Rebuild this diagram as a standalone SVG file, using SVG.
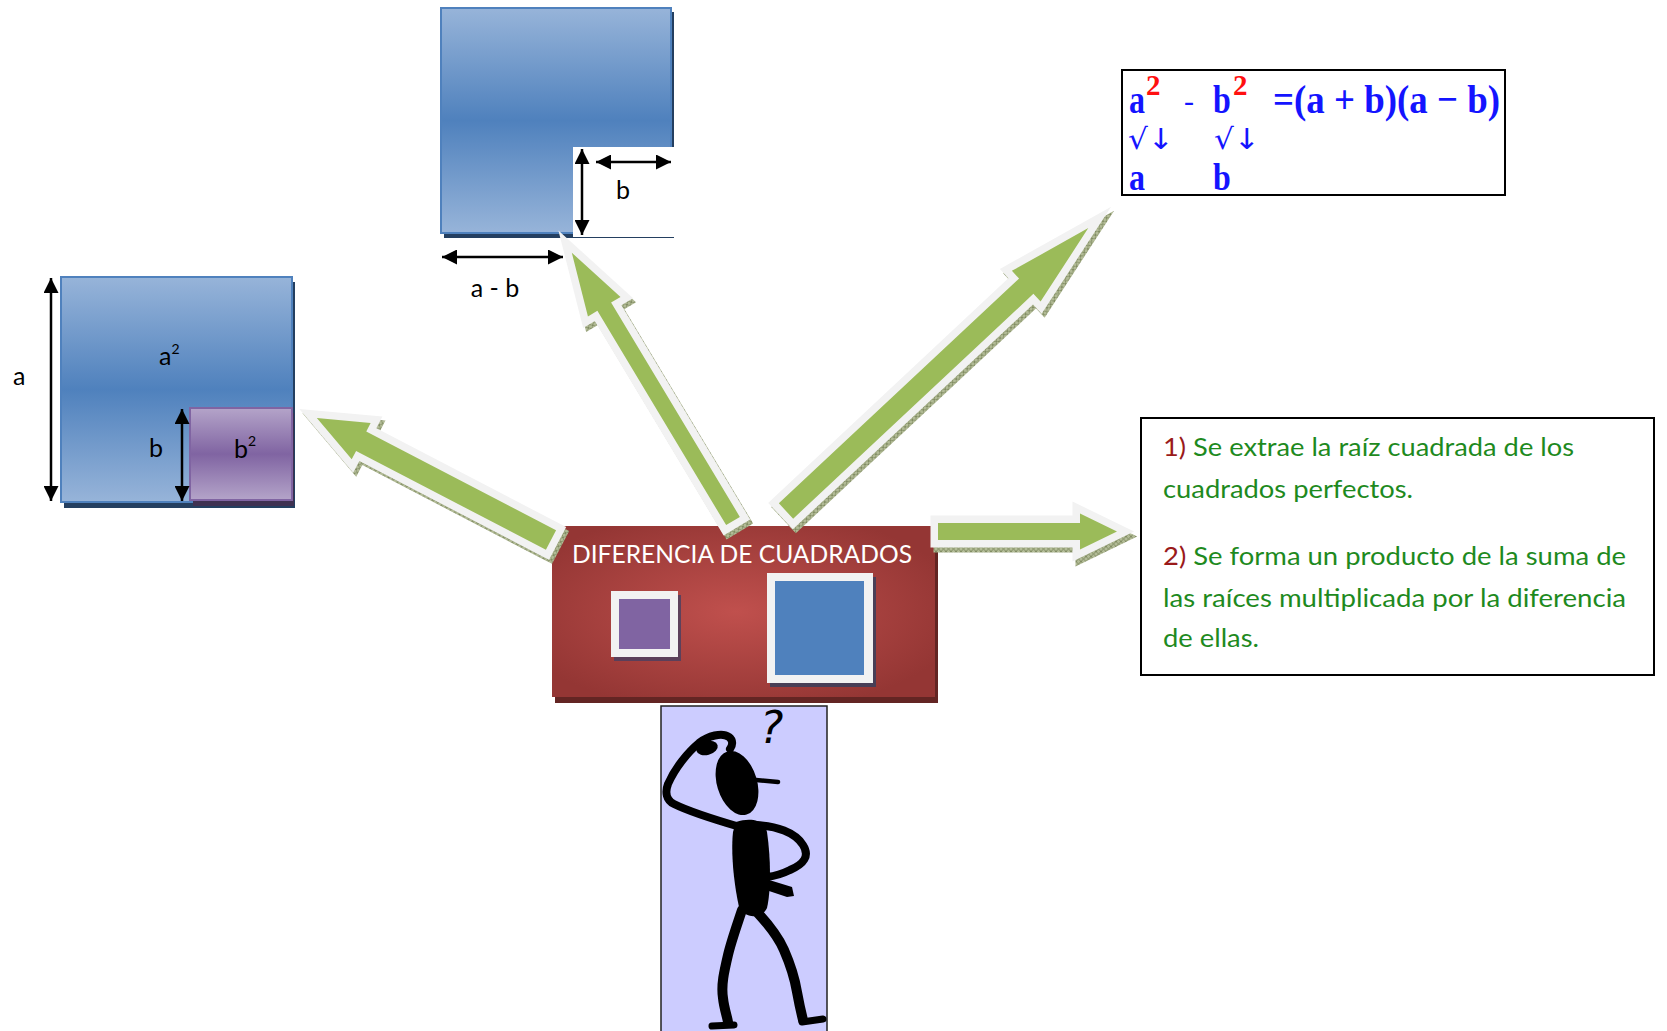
<svg xmlns="http://www.w3.org/2000/svg" xmlns:xlink="http://www.w3.org/1999/xlink" width="1667" height="1031" viewBox="0 0 1667 1031">
  <style>
    .lbl { font-family: Lato, "Open Sans", "Liberation Sans", sans-serif; font-size: 25px; fill: #000; }
    .dim { stroke: #000; stroke-width: 2.5; fill: none; marker-start: url(#tipStart); marker-end: url(#tipEnd); }
    .sq-blue { fill: url(#gBlue); stroke: #4f81bd; stroke-width: 2; }
    .sq-purple { fill: url(#gPurple); stroke: #8064a2; stroke-width: 2; }
    .shadow-blue { fill: #243f60; }
    .shadow-purple { fill: #3f3151; }
    .arrow-shadow { fill: url(#hatch); stroke: url(#hatch); stroke-width: 15; stroke-linejoin: miter; stroke-miterlimit: 10; }
    .arrow-rim { fill: #f2f2f2; stroke: #f2f2f2; stroke-width: 15; stroke-linejoin: miter; stroke-miterlimit: 10; }
    .arrow-body { fill: #9bbb59; }
    .frame { fill: #f2f2f2; }
    .eq { font-family: "Liberation Serif", "Times New Roman", serif; font-weight: bold; fill: #1414ff; }
    .eq-root { font-family: "DejaVu Sans", sans-serif; font-size: 25px; fill: #1414ff; }
    .eq-red { font-family: "Liberation Serif", "Times New Roman", serif; font-weight: bold; fill: #ff1010; font-size: 29px; }
    .steps { font-family: Lato, "Open Sans", "Liberation Sans", sans-serif; font-size: 25px; fill: #1e8a1e; }
    .num { fill: #9a1a1a; }
    .ink { fill: #000; }
    .limb { fill: none; stroke: #000; stroke-linecap: round; stroke-linejoin: round; }
  </style>
  <defs>
    <linearGradient id="gBlue" x1="0" y1="0" x2="0" y2="1">
      <stop offset="0" stop-color="#97b4d9"/>
      <stop offset="0.5" stop-color="#4f81bd"/>
      <stop offset="1" stop-color="#97b4d9"/>
    </linearGradient>
    <linearGradient id="gPurple" x1="0" y1="0" x2="0" y2="1">
      <stop offset="0" stop-color="#b4a4c9"/>
      <stop offset="0.5" stop-color="#8064a2"/>
      <stop offset="1" stop-color="#b4a4c9"/>
    </linearGradient>
    <radialGradient id="gRed" cx="0.48" cy="0.5" r="0.6">
      <stop offset="0" stop-color="#c0504d"/>
      <stop offset="1" stop-color="#943634"/>
    </radialGradient>
    <pattern id="hatch" patternUnits="userSpaceOnUse" width="5" height="5">
      <rect width="5" height="5" fill="#b2bb96"/>
      <path d="M0 5 L5 0 M0 0 L5 5" stroke="#6d7a4f" stroke-width="0.7"/>
    </pattern>
    <marker id="tipEnd" markerUnits="userSpaceOnUse" markerWidth="15" markerHeight="15" refX="15" refY="7.5" orient="auto">
      <path d="M0 0 L15 7.5 L0 15 Z" fill="#000"/>
    </marker>
    <marker id="tipStart" markerUnits="userSpaceOnUse" markerWidth="15" markerHeight="15" refX="0" refY="7.5" orient="auto">
      <path d="M15 0 L0 7.5 L15 15 Z" fill="#000"/>
    </marker>
    <!-- block arrow outlines: tail at origin, tip along +x -->
    <polygon id="shapeL" points="0,-11 214,-11 214,-20.5 264,0 214,20.5 214,11 0,11" transform="translate(551,540) rotate(-152.5)"/>
    <polygon id="shapeM" points="0,-8 250,-8 250,-19 313,0 250,19 250,8 0,8" transform="translate(733,521) rotate(-121)"/>
    <polygon id="shapeR" points="0,-10.5 329,-10.5 329,-21 414,0 329,21 329,10.5 0,10.5" transform="translate(786,511) rotate(-43.1)"/>
    <polygon id="shapeE" points="0,-8.5 142,-8.5 142,-18 179,0 142,18 142,8.5 0,8.5" transform="translate(938,531.5)"/>
  </defs>

  <rect width="1667" height="1031" fill="#fff"/>

  <!-- a^2 - b^2 square with the b^2 corner -->
  <g id="squareA">
    <rect class="shadow-blue" x="64" y="282" width="231" height="226"/>
    <rect class="sq-blue" x="61" y="277" width="231" height="225"/>
    <rect class="shadow-purple" x="193" y="413" width="101" height="93"/>
    <rect class="sq-purple" x="190" y="408" width="102" height="92"/>
    <line class="dim" x1="51" y1="278" x2="51" y2="501"/>
    <line class="dim" x1="182" y1="409" x2="182" y2="501"/>
    <text class="lbl" x="13" y="385">a</text>
    <text class="lbl" x="149" y="457">b</text>
    <text class="lbl" x="159" y="365">a<tspan font-size="14" dy="-11">2</tspan></text>
    <text class="lbl" x="234" y="458">b<tspan font-size="14" dy="-12">2</tspan></text>
  </g>

  <!-- square with the corner removed -->
  <g id="squareCut">
    <rect class="shadow-blue" x="444" y="12" width="230" height="226"/>
    <rect class="sq-blue" x="441" y="8" width="230" height="225"/>
    <rect x="573" y="147" width="104" height="90" fill="#fff"/>
    <line x1="573" y1="237.5" x2="673" y2="237.5" stroke="#243f60" stroke-width="1.2"/>
    <line class="dim" x1="582" y1="149" x2="582" y2="235"/>
    <line class="dim" x1="596" y1="162" x2="671" y2="162"/>
    <line class="dim" x1="442" y1="257" x2="563" y2="257"/>
    <text class="lbl" x="616" y="199">b</text>
    <text class="lbl" x="495" y="297" text-anchor="middle">a - b</text>
  </g>

  <!-- central title block -->
  <g id="title">
    <rect x="555" y="532" width="383" height="171" fill="#632523"/>
    <rect x="552" y="526" width="383" height="171" fill="url(#gRed)"/>
    <text x="572" y="563" textLength="340" lengthAdjust="spacingAndGlyphs" style="font-family: Lato, 'Open Sans', sans-serif; font-size: 25px; fill: #fff;">DIFERENCIA DE CUADRADOS</text>
    <rect x="614" y="595" width="67" height="66" fill="#4d3f5f" opacity="0.85"/>
    <rect class="frame" x="611" y="591" width="67" height="66"/>
    <rect x="619" y="599" width="51" height="50" fill="#8064a2"/>
    <rect x="770" y="577" width="106" height="110" fill="#3a3f5c" opacity="0.85"/>
    <rect class="frame" x="767" y="573" width="106" height="110"/>
    <rect x="775" y="581" width="89" height="94" fill="#4f81bd"/>
  </g>

  <!-- block arrows leaving the title block -->
  <g id="connectors">
    <use xlink:href="#shapeL" class="arrow-shadow" transform="translate(3,4)"/>
    <use xlink:href="#shapeL" class="arrow-rim"/>
    <use xlink:href="#shapeL" class="arrow-body"/>
    <use xlink:href="#shapeM" class="arrow-shadow" transform="translate(3,4)"/>
    <use xlink:href="#shapeM" class="arrow-rim"/>
    <use xlink:href="#shapeM" class="arrow-body"/>
    <use xlink:href="#shapeR" class="arrow-shadow" transform="translate(3,4)"/>
    <use xlink:href="#shapeR" class="arrow-rim"/>
    <use xlink:href="#shapeR" class="arrow-body"/>
    <use xlink:href="#shapeE" class="arrow-shadow" transform="translate(3,5)"/>
    <use xlink:href="#shapeE" class="arrow-rim"/>
    <use xlink:href="#shapeE" class="arrow-body"/>
  </g>

  <!-- formula box -->
  <g id="formula">
    <rect x="1122" y="70" width="383" height="125" fill="#fff" stroke="#000" stroke-width="2"/>
    <text class="eq" font-size="32" transform="translate(1129,113) scale(1,1.28)">a</text>
    <text class="eq-red" x="1146" y="95">2</text>
    <text class="eq" font-size="30" style="font-weight:normal" x="1184" y="111">-</text>
    <text class="eq" font-size="32" transform="translate(1213,113) scale(1,1.28)">b</text>
    <text class="eq-red" x="1233" y="95">2</text>
    <text class="eq" font-size="32" textLength="227" lengthAdjust="spacingAndGlyphs" transform="translate(1273,113) scale(1,1.28)">=(a + b)(a − b)</text>
    <text class="eq-root" textLength="46" lengthAdjust="spacingAndGlyphs" transform="translate(1128,149) scale(1,1.15)">√↓</text>
    <text class="eq-root" textLength="46" lengthAdjust="spacingAndGlyphs" transform="translate(1214,149) scale(1,1.15)">√↓</text>
    <text class="eq" font-size="32" transform="translate(1129,190) scale(1,1.2)">a</text>
    <text class="eq" font-size="32" transform="translate(1213,190) scale(1,1.2)">b</text>
  </g>

  <!-- steps box -->
  <g id="steps">
    <rect x="1141" y="418" width="513" height="257" fill="#fff" stroke="#000" stroke-width="2"/>
    <text class="steps" x="1163" y="456" textLength="411" lengthAdjust="spacingAndGlyphs"><tspan class="num">1)</tspan> Se extrae la raíz cuadrada de los</text>
    <text class="steps" x="1163" y="498" textLength="250" lengthAdjust="spacingAndGlyphs">cuadrados perfectos.</text>
    <text class="steps" x="1163" y="565" textLength="463" lengthAdjust="spacingAndGlyphs"><tspan class="num">2)</tspan> Se forma un producto de la suma de</text>
    <text class="steps" x="1163" y="607" textLength="463" lengthAdjust="spacingAndGlyphs">las raíces multiplicada por la diferencia</text>
    <text class="steps" x="1163" y="647" textLength="96" lengthAdjust="spacingAndGlyphs">de ellas.</text>
  </g>

  <!-- puzzled figure -->
  <g id="thinker">
    <rect x="661" y="706" width="166" height="340" fill="#ccccff" stroke="#222" stroke-width="1.5"/>
    <text x="760" y="743" style="font-family:'DejaVu Sans', sans-serif; font-size:44px; font-style:italic; fill:#000;">?</text>
    <ellipse class="ink" cx="737" cy="783" rx="20" ry="33" transform="rotate(-17 737 783)"/>
    <path class="limb" d="M756 780 L778 782" stroke-width="4.5"/>
    <path class="limb" d="M740 827 C716 820 690 812 674 804 C666 800 665 792 668 784 C675 768 688 752 699 743 C708 736 722 732 729 737 C733 740 733 745 730 749" stroke-width="8"/>
    <ellipse class="ink" cx="707" cy="748" rx="11" ry="7" transform="rotate(-15 707 748)"/>
    <path class="ink" d="M736 822 C752 817 765 821 767 832 C771 860 771 890 767 908 C762 919 744 919 739 907 C733 880 731 850 733 832 Z"/>
    <path class="limb" d="M756 825 C776 826 795 832 803 845 C810 856 804 864 790 870 C782 874 775 876 767 877" stroke-width="8"/>
    <path class="ink" d="M766 879 L792 887 L794 896 L787 897 L766 890 Z"/>
    <path class="limb" d="M742 910 C736 928 731 942 728 955 C724 972 721 985 723 998 C724 1008 727 1016 728 1022" stroke-width="10"/>
    <path class="limb" d="M712 1026 L734 1025" stroke-width="7"/>
    <path class="limb" d="M757 912 C768 924 778 936 784 950 C791 966 795 980 797 992 C799 1003 801 1012 803 1020" stroke-width="10"/>
    <path class="limb" d="M802 1022 L823 1019" stroke-width="7"/>
  </g>
</svg>
